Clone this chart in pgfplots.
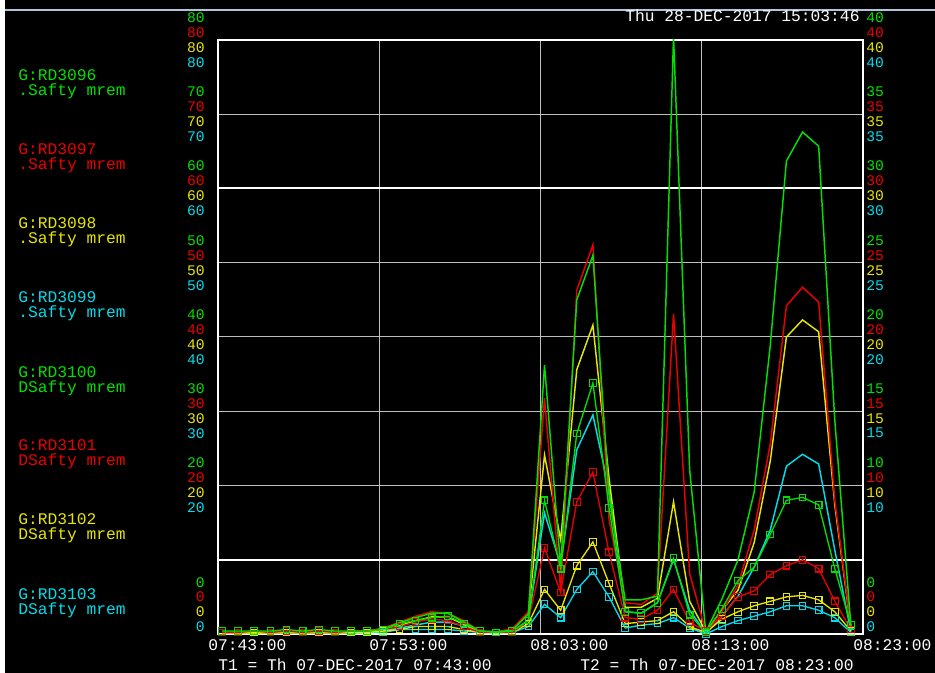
\documentclass[border=0pt]{standalone}
\usepackage{pgfplots}
\pgfplotsset{compat=1.18}
\usepackage{pgfplotstable}
\usepackage{fontspec}
\setmainfont{Liberation Mono}
\definecolor{cG}{RGB}{0,225,0}
\definecolor{cR}{RGB}{235,0,0}
\definecolor{cY}{RGB}{230,230,0}
\definecolor{cC}{RGB}{0,220,235}
\definecolor{gridg}{RGB}{190,190,190}
\definecolor{topline}{RGB}{176,196,222}

% Left-axis group (0-80): RD3096..RD3099, time in minutes after 07:43:00
\pgfplotstableread{
t G R Y C
0.25 0.2 0.2 0.1 0.1
1.25 0.2 0.2 0.1 0.1
2.25 0.2 0.3 0.1 0.1
3.25 0.2 0.2 0.1 0.1
4.25 0.3 0.2 0.2 0.1
5.25 0.2 0.2 0.1 0.1
6.25 0.3 0.2 0.2 0.1
7.25 0.2 0.2 0.1 0.1
8.25 0.3 0.3 0.2 0.1
9.25 0.4 0.4 0.3 0.2
10.25 0.7 0.8 0.5 0.4
11.25 1.5 1.6 1.1 0.8
12.25 2.2 2.4 1.8 1.2
13.25 2.8 3.0 2.3 1.6
14.25 2.8 2.8 2.3 1.6
15.25 1.6 1.8 1.3 1.1
16.25 0.4 0.4 0.3 0.2
17.25 0.3 0.3 0.2 0.2
18.25 0.5 0.7 0.5 0.3
19.25 2.7 3.0 2.8 1.9
20.25 36.2 31.8 24.1 16.3
21.25 9.0 5.9 12.7 9.3
22.25 45.0 46.3 35.6 24.8
23.25 51.0 52.4 41.6 29.5
24.25 18.7 15.4 21.0 19.4
25.25 4.6 4.2 3.6 3.0
26.25 4.6 4.0 3.6 2.8
27.25 5.1 5.5 4.8 4.2
28.25 80.5 43.1 17.8 10.0
29.25 22.1 8.1 4.4 3.2
30.25 0.3 0.3 0.3 0.1
31.25 4.7 3.0 3.2 2.4
32.25 10.0 6.6 5.9 5.1
33.25 19.1 14.0 12.3 9.0
34.25 38.9 25.6 23.3 14.0
35.25 63.7 44.2 40.0 22.6
36.25 67.6 46.7 42.3 24.2
37.25 65.7 44.7 40.7 22.9
38.25 28.8 18.0 17.4 11.3
39.25 1.1 0.9 0.8 0.3
}\tabA

% Right-axis group (0-40): RD3100..RD3103
\pgfplotstableread{
t G R Y C
0.25 0.2 0.1 0.1 0.1
1.25 0.2 0.1 0.1 0.1
2.25 0.2 0.2 0.1 0.1
3.25 0.2 0.1 0.1 0.1
4.25 0.3 0.2 0.1 0.1
5.25 0.2 0.1 0.1 0.1
6.25 0.3 0.2 0.1 0.1
7.25 0.2 0.1 0.1 0.1
8.25 0.2 0.2 0.1 0.1
9.25 0.2 0.2 0.1 0.1
10.25 0.3 0.3 0.2 0.1
11.25 0.7 0.5 0.3 0.3
12.25 0.9 0.8 0.5 0.3
13.25 1.1 1.0 0.5 0.3
14.25 1.2 0.9 0.5 0.3
15.25 0.7 0.5 0.3 0.2
16.25 0.2 0.1 0.1 0.1
17.25 0.1 0.1 0.1 0.1
18.25 0.2 0.1 0.1 0.1
19.25 0.9 0.9 0.7 0.5
20.25 9.0 5.8 3.0 2.0
21.25 4.4 2.8 1.6 1.1
22.25 13.5 8.9 4.6 3.0
23.25 16.9 10.9 6.2 4.2
24.25 8.5 5.5 3.4 2.5
25.25 1.5 1.1 0.7 0.4
26.25 1.4 1.0 0.8 0.6
27.25 2.1 1.6 0.9 0.7
28.25 5.1 3.0 1.5 1.1
29.25 1.3 0.8 0.5 0.4
30.25 0.1 0.2 0.1 0.0
31.25 1.7 1.2 1.0 0.5
32.25 3.6 2.5 1.5 0.9
33.25 4.5 2.9 1.9 1.2
34.25 6.7 4.0 2.2 1.5
35.25 9.0 4.6 2.5 1.9
36.25 9.2 5.0 2.6 1.9
37.25 8.7 4.4 2.3 1.6
38.25 4.4 2.2 1.5 1.1
39.25 0.6 0.3 0.2 0.1
}\tabB

\newcommand{\stk}[1]{{\color{cG}#1}\\{\color{cR}#1}\\{\color{cY}#1}\\{\color{cC}#1}}

\begin{document}
\begin{tikzpicture}
\path[use as bounding box] (0,0) rectangle (701.25pt,504.75pt);
\fill[black] (0,0) rectangle (701.25pt,504.75pt);
\fill[white] (0,0) rectangle (3.75pt,504.75pt);

\begin{axis}[
  at={(163.5pt,29.25pt)}, anchor=south west,
  scale only axis, width=483.75pt, height=445.5pt,
  xmin=0, xmax=40, ymin=0, ymax=80,
  xtick={0,10,20,30,40}, ytick={0,10,20,30,40,50,60,70,80},
  xticklabels={}, yticklabels={},
  major tick length=0pt,
  grid=major,
  major grid style={draw=gridg, line width=0.75pt},
  axis line style={draw=white, line width=0.9pt},
  extra y ticks={10,60}, extra y tick labels={},
  extra y tick style={grid=major, major grid style={draw=white, line width=1.5pt}},
  every axis plot/.append style={line width=1.1pt, no markers},
]
\addplot[cC] table[x=t,y=C] {\tabA};
\addplot[cY] table[x=t,y=Y] {\tabA};
\addplot[cR] table[x=t,y=R] {\tabA};
\addplot[cG] table[x=t,y=G] {\tabA};
\draw[white, line width=1.6pt] (rel axis cs:1,0) -- (rel axis cs:1,1);
\end{axis}

\begin{axis}[
  at={(163.5pt,29.25pt)}, anchor=south west,
  scale only axis, width=483.75pt, height=445.5pt,
  xmin=0, xmax=40, ymin=0, ymax=40,
  hide axis,
  every axis plot/.append style={line width=1.0pt, mark=square, mark size=2.5pt, mark options={solid, line width=0.8pt}},
]
\addplot[cC] table[x=t,y=C] {\tabB};
\addplot[cY] table[x=t,y=Y] {\tabB};
\addplot[cR] table[x=t,y=R] {\tabB};
\addplot[cG] table[x=t,y=G] {\tabB};
\end{axis}

\begin{scope}[x=0.75pt,y=-0.75pt,yshift=504.75pt,
  every node/.style={inner sep=0pt, font=\fontsize{12.2}{11.25}\selectfont}]
\draw[topline, line width=0.9pt] (5,10) -- (935,10);
% top timestamp
\node[anchor=west, text=white] at (625,16) {Thu 28-DEC-2017 15:03:46};
% left legend
\foreach \n/\s/\c/\yy in {3096/./cG/77, 3097/./cR/151, 3098/./cY/225, 3099/./cC/299,
                         3100/D/cG/374, 3101/D/cR/447, 3102/D/cY/521, 3103/D/cC/596} {
  \node[anchor=west, text=\c, align=left] at (18,\yy+7.5) {G:RD\n\\\s Safty mrem};
}
% left tick stacks
\foreach \v/\gy in {80/40,70/114,60/188,50/263,40/337,30/411,20/485} {
  \node[anchor=east, align=right, font=\fontsize{11}{11.1}\selectfont] at (205,\gy) {\stk{\v}};
}
\node[anchor=east, align=right, font=\fontsize{11}{11.1}\selectfont] at (205,604.5) {\stk{0}};
% right tick stacks
\foreach \v/\gy in {40/40,35/114,30/188,25/263,20/337,15/411,10/485} {
  \node[anchor=west, align=left, font=\fontsize{11}{11.1}\selectfont] at (866,\gy) {\stk{\v}};
}
\node[anchor=west, align=left, font=\fontsize{11}{11.1}\selectfont] at (866,604.5) {\stk{0}};
% time labels
\foreach \xx/\lab in {218/07:43:00, 379/07:53:00, 540/08:03:00, 701/08:13:00, 863/08:23:00} {
  \node[anchor=west, text=white] at (\xx-10,645) {\lab};
}
\node[anchor=west, text=white] at (218,665) {T1 = Th 07-DEC-2017 07:43:00};
\node[anchor=west, text=white] at (580,665) {T2 = Th 07-DEC-2017 08:23:00};
\end{scope}
\end{tikzpicture}
\end{document}
